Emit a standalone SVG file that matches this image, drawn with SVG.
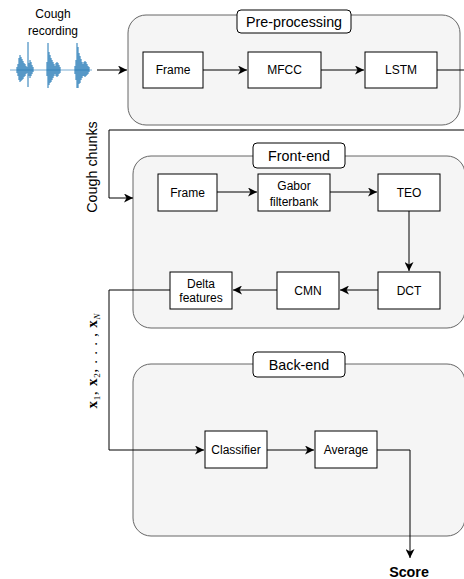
<svg xmlns="http://www.w3.org/2000/svg" width="464" height="579" viewBox="0 0 464 579">
<defs>
<marker id="arr" markerUnits="userSpaceOnUse" markerWidth="10" markerHeight="9" refX="9" refY="4.5" orient="auto">
<path d="M0,0 L9,4.5 L0,9 L2.5,4.5 z" fill="#000"/>
</marker>
</defs>
<style>
.grp{fill:#f5f5f5;stroke:#666;stroke-width:1}
.ttl{fill:#fff;stroke:#000;stroke-width:1}
.box{fill:#fff;stroke:#000;stroke-width:1}
.t{font-family:"Liberation Sans",Arial,sans-serif;font-size:12px;fill:#000;text-anchor:middle}
.h{font-family:"Liberation Sans",Arial,sans-serif;font-size:14.3px;fill:#000;text-anchor:middle}
.c{fill:none;stroke:#000;stroke-width:1}
.wave{fill:none;stroke:#1f77b4;stroke-width:1}
</style>
<rect width="464" height="579" fill="#fff"/>

<g id="input">
<text class="t" x="53" y="18">Cough</text>
<text class="t" x="53" y="35">recording</text>
<g class="wave">
<path d="M10,70 H92" stroke-opacity="0.6"/>
<path d="M17,67v6M18,64v12M19,58v22M20,55v27M21,57v24M22,59v21M23,61v18M24,63v14M25,64v12M26,66v8M27,67v6M28,42v45M29,63v13M30,60v18M31,62v14M32,65v9M33,67v5"/>
<path d="M47,62v14M48,43v45M49,52v33M50,55v28M51,58v24M52,60v20M53,62v16M54,64v12M55,66v8M56,63v13M57,62v15M58,63v13M59,65v9M60,67v6"/>
<path d="M75,66v8M76,60v20M77,43v45M78,47v41M79,53v31M80,56v27M81,59v21M82,62v16M83,64v12M84,62v14M85,61v16M86,62v14M87,64v11M88,66v8M89,67v5"/>
</g>
</g>

<g id="preprocessing">
<rect class="grp" x="128" y="15" width="332" height="110" rx="18"/>
<rect class="ttl" x="237" y="10" width="114" height="23" rx="4"/>
<text class="h" x="294" y="26.5">Pre-processing</text>
</g>
<g id="pre-frame"><rect class="box" x="143" y="52" width="60" height="36"/><text class="t" x="173" y="74">Frame</text></g>
<g id="mfcc"><rect class="box" x="248" y="52" width="73" height="36"/><text class="t" x="284.5" y="74">MFCC</text></g>
<g id="lstm"><rect class="box" x="365" y="52" width="72" height="36"/><text class="t" x="401" y="74">LSTM</text></g>

<g id="frontend">
<rect class="grp" x="133" y="156" width="332" height="172" rx="18"/>
<rect class="ttl" x="253" y="143" width="92" height="25" rx="4"/>
<text class="h" x="299" y="160.5">Front-end</text>
</g>
<g id="fe-frame"><rect class="box" x="158" y="174" width="59" height="37"/><text class="t" x="187.5" y="196.5">Frame</text></g>
<g id="gabor"><rect class="box" x="258" y="174" width="72" height="37"/><text class="t" x="294" y="190">Gabor</text><text class="t" x="294" y="206">filterbank</text></g>
<g id="teo"><rect class="box" x="378" y="174" width="62" height="37"/><text class="t" x="409" y="196.5">TEO</text></g>
<g id="dct"><rect class="box" x="378" y="272" width="62" height="37"/><text class="t" x="409" y="294.5">DCT</text></g>
<g id="cmn"><rect class="box" x="277" y="272" width="62" height="37"/><text class="t" x="308" y="294.5">CMN</text></g>
<g id="delta"><rect class="box" x="170" y="272" width="62" height="37"/><text class="t" x="201" y="288">Delta</text><text class="t" x="201" y="302">features</text></g>

<g id="backend">
<rect class="grp" x="133" y="364" width="332" height="172" rx="18"/>
<rect class="ttl" x="253" y="352" width="92" height="25" rx="4"/>
<text class="h" x="299" y="369.5">Back-end</text>
</g>
<g id="classifier"><rect class="box" x="205" y="431" width="62" height="37"/><text class="t" x="236" y="453.5">Classifier</text></g>
<g id="average"><rect class="box" x="315" y="431" width="62" height="37"/><text class="t" x="346" y="453.5">Average</text></g>

<g id="labels">
<text class="h" transform="translate(97,167) rotate(-90)" x="0" y="0">Cough chunks</text>
<text transform="translate(97,361) rotate(-90)" x="0" y="0" text-anchor="middle" font-family="'Liberation Serif','Times New Roman',serif" font-size="15" textLength="95" lengthAdjust="spacing"><tspan font-weight="bold">x</tspan><tspan font-size="9" baseline-shift="-3">1</tspan><tspan>, </tspan><tspan font-weight="bold">x</tspan><tspan font-size="9" baseline-shift="-3">2</tspan><tspan>, . . . , </tspan><tspan font-weight="bold">x</tspan><tspan font-size="9" font-style="italic" baseline-shift="-3">N</tspan></text>
<text x="409" y="577" text-anchor="middle" font-family="'Liberation Sans',Arial,sans-serif" font-size="14.3" font-weight="bold">Score</text>
</g>

<g id="connectors">
<path class="c" d="M97,70 H127" stroke-width="1.5" marker-end="url(#arr)"/>
<path class="c" d="M203,70 H247" marker-end="url(#arr)"/>
<path class="c" d="M321,70 H364" marker-end="url(#arr)"/>
<path class="c" d="M437,70 H470 V130 H109 V198 H133" marker-end="url(#arr)"/>
<path class="c" d="M217,192 H257" marker-end="url(#arr)"/>
<path class="c" d="M330,192 H377" marker-end="url(#arr)"/>
<path class="c" d="M409,211 V271" marker-end="url(#arr)"/>
<path class="c" d="M378,290 H340" marker-end="url(#arr)"/>
<path class="c" d="M277,290 H233" marker-end="url(#arr)"/>
<path class="c" d="M170,290 H109 V450 H204" marker-end="url(#arr)"/>
<path class="c" d="M267,450 H314" marker-end="url(#arr)"/>
<path class="c" d="M377,450 H410 V558" marker-end="url(#arr)"/>
</g>
</svg>
